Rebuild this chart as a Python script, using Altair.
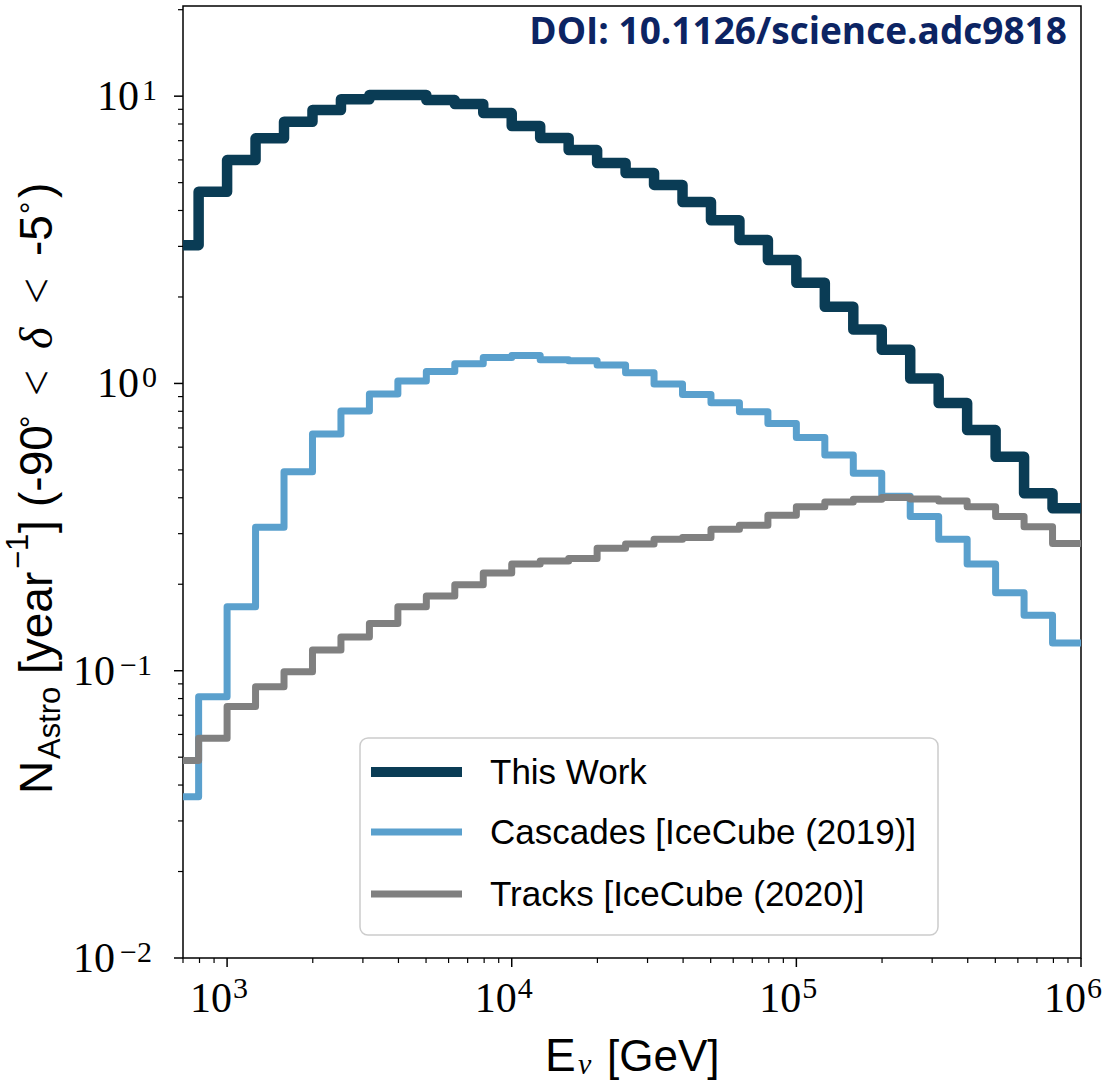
import altair as alt
import pandas as pd

# ---------------- data ----------------
bin_exponents = [2.8, 2.9, 3.0, 3.1, 3.2, 3.3, 3.4, 3.5, 3.6, 3.7, 3.8, 3.9,
                 4.0, 4.1, 4.2, 4.3, 4.4, 4.5, 4.6, 4.7, 4.8, 4.9,
                 5.0, 5.1, 5.2, 5.3, 5.4, 5.5, 5.6, 5.7, 5.8, 5.9, 6.0]

this_work = [3.03, 4.65, 5.99, 7.13, 8.15, 8.95, 9.75, 10.1, 10.1, 9.69, 9.39, 8.73,
             7.87, 7.15, 6.49, 5.85, 5.40, 4.91, 4.28, 3.70, 3.16, 2.69,
             2.24, 1.85, 1.54, 1.31, 1.04, 0.855, 0.688, 0.556, 0.415, 0.368]

cascades = [0.0364, 0.0812, 0.167, 0.316, 0.493, 0.667, 0.802, 0.918, 1.02, 1.10, 1.17, 1.23,
            1.25, 1.21, 1.20, 1.16, 1.09, 0.995, 0.916, 0.857, 0.797, 0.726,
            0.649, 0.563, 0.487, 0.405, 0.344, 0.287, 0.235, 0.187, 0.156, 0.125]

tracks = [0.0487, 0.0582, 0.0750, 0.0880, 0.0992, 0.118, 0.131, 0.146, 0.167, 0.182, 0.199, 0.219,
          0.235, 0.241, 0.246, 0.267, 0.276, 0.287, 0.291, 0.311, 0.321, 0.348,
          0.372, 0.387, 0.395, 0.401, 0.396, 0.390, 0.372, 0.344, 0.317, 0.277]

series_names = ["This Work", "Cascades [IceCube (2019)]", "Tracks [IceCube (2020)]"]
series_values = [this_work, cascades, tracks]

x_major = [1e3, 1e4, 1e5, 1e6]
x_major_exp = ["3", "4", "5", "6"]
y_major_pos = [1.0, 10.0]
y_major_pos_exp = ["0", "1"]
y_major_neg = [0.01, 0.1]
y_major_neg_exp = ["\u22122", "\u22121"]

x_minor = [700, 800, 900] + [m * 10 ** k for k in (3, 4, 5) for m in range(2, 10)]
y_minor = [m * 10.0 ** k for k in (-2, -1, 0) for m in range(2, 10)] + [20]

# ---------------- styles ----------------
W, H = 898, 952
OX, OY = 183, 6          # plot origin on the page
colors = ["#0a3c55", "#5aa0cd", "#808080"]
widths = [10.5, 7, 7]
SANS = "Liberation Sans"
SERIF = "Liberation Serif"

x_scale = alt.Scale(type="log", domain=[700, 1e6], nice=False)
y_scale = alt.Scale(type="log", domain=[0.01, 20.6], nice=False)
one = pd.DataFrame({"k": [0]})

layers = []

# step lines
for vals, c, w in zip(series_values, colors, widths):
    df = pd.DataFrame({"E": [10 ** e for e in bin_exponents], "N": vals + [vals[-1]]})
    layers.append(
        alt.Chart(df).mark_line(interpolate="step-after", color=c, strokeWidth=w,
                                clip=True, strokeJoin="round")
        .encode(x=alt.X("E:Q", scale=x_scale, axis=None),
                y=alt.Y("N:Q", scale=y_scale, axis=None))
    )

# x ticks
xmaj = pd.DataFrame({"E": x_major, "exp": x_major_exp})
xmin = pd.DataFrame({"E": x_minor})
layers.append(alt.Chart(xmaj).mark_rule(color="black", strokeWidth=1.5)
              .encode(x=alt.X("E:Q", scale=x_scale, axis=None), y=alt.value(H), y2=alt.value(H + 9)))
layers.append(alt.Chart(xmin).mark_rule(color="black", strokeWidth=1.2)
              .encode(x=alt.X("E:Q", scale=x_scale, axis=None), y=alt.value(H), y2=alt.value(H + 5)))
layers.append(alt.Chart(xmaj).mark_text(text="10", font=SERIF, fontSize=42, align="right",
                                        baseline="alphabetic", dx=5, color="black")
              .encode(x=alt.X("E:Q", scale=x_scale, axis=None), y=alt.value(1012 - OY)))
layers.append(alt.Chart(xmaj).mark_text(font=SERIF, fontSize=30, align="left",
                                        baseline="alphabetic", dx=6, color="black")
              .encode(x=alt.X("E:Q", scale=x_scale, axis=None), y=alt.value(998 - OY), text="exp:N"))

# y ticks
ymaj_all = pd.DataFrame({"N": y_major_neg + y_major_pos})
ymin = pd.DataFrame({"N": y_minor})
layers.append(alt.Chart(ymaj_all).mark_rule(color="black", strokeWidth=1.5)
              .encode(y=alt.Y("N:Q", scale=y_scale, axis=None), x=alt.value(-9), x2=alt.value(0)))
layers.append(alt.Chart(ymin).mark_rule(color="black", strokeWidth=1.2)
              .encode(y=alt.Y("N:Q", scale=y_scale, axis=None), x=alt.value(-5), x2=alt.value(0)))
for vals, exps, xten, xsup in [(y_major_pos, y_major_pos_exp, -44, -41),
                               (y_major_neg, y_major_neg_exp, -68, -63)]:
    d = pd.DataFrame({"N": vals, "exp": exps})
    layers.append(alt.Chart(d).mark_text(text="10", font=SERIF, fontSize=42, align="right",
                                         baseline="alphabetic", dy=14, color="black")
                  .encode(y=alt.Y("N:Q", scale=y_scale, axis=None), x=alt.value(xten)))
    layers.append(alt.Chart(d).mark_text(font=SERIF, fontSize=30, align="left",
                                         baseline="alphabetic", dy=4, color="black")
                  .encode(y=alt.Y("N:Q", scale=y_scale, axis=None), x=alt.value(xsup), text="exp:N"))


def txt(s, x, y, size, font=SANS, angle=0, style="normal", weight="normal", color="black", align="left"):
    return (alt.Chart(one).mark_text(text=s, font=font, fontSize=size, angle=angle, fontStyle=style,
                                     fontWeight=weight, color=color, align=align, baseline="alphabetic")
            .encode(x=alt.value(x - OX), y=alt.value(y - OY)))


# y title pieces (rotated, reading upward); (text, start_y, baseline_x, size, font, style)
ytitle = [
    ("N", 794, 52, 46, SANS, "normal"),
    ("Astro", 759, 60, 31, SANS, "normal"),
    ("[year", 674, 52, 46, SANS, "normal"),
    ("\u22121", 569, 28, 31, SANS, "normal"),
    ("]", 533, 52, 46, SANS, "normal"),
    ("(-90", 507, 52, 46, SANS, "normal"),
    ("\u00b0", 428, 42, 31, SANS, "normal"),
    ("<", 396, 52, 46, SERIF, "normal"),
    ("\u03b4", 349, 52, 46, SERIF, "italic"),
    ("<", 304, 52, 46, SERIF, "normal"),
    ("-5", 256, 52, 46, SANS, "normal"),
    ("\u00b0", 214, 42, 31, SANS, "normal"),
    (")", 198, 52, 46, SANS, "normal"),
]
for s, y0, xb, fs, f, st in ytitle:
    layers.append(txt(s, xb, y0, fs, font=f, angle=270, style=st))

# x title
layers.append(txt("E", 545, 1071, 46))
layers.append(txt("\u03bd", 578, 1074, 30, font=SERIF, style="italic"))
layers.append(txt("[GeV]", 607, 1071, 44))

# legend
layers.append(alt.Chart(one).mark_rect(fill="white", fillOpacity=0.85, stroke="#cccccc",
                                       strokeWidth=1.5, cornerRadius=8)
              .encode(x=alt.value(360 - OX), x2=alt.value(938 - OX),
                      y=alt.value(738 - OY), y2=alt.value(935 - OY)))
legend_rows = [772, 832, 894]
legend_lw = [10, 7, 7]
for name, c, lw, ry in zip(series_names, colors, legend_lw, legend_rows):
    layers.append(alt.Chart(one).mark_rule(color=c, strokeWidth=lw)
                  .encode(x=alt.value(371 - OX), x2=alt.value(462 - OX),
                          y=alt.value(ry - OY)))
    layers.append(txt(name, 490, ry + 12, 35))

# DOI
layers.append(txt("DOI: 10.1126/science.adc9818", 1067, 44, 37, font="Open Sans",
                  weight="bold", color="#0c2463", align="right"))

chart = (alt.layer(*layers)
         .properties(width=W, height=H,
                     autosize=alt.AutoSizeParams(type="none"),
                     padding={"left": OX, "top": OY, "right": 1108 - OX - W, "bottom": 1081 - OY - H},
                     background="white")
         .configure_view(stroke="black", strokeWidth=1.5))

chart.save("out.html", embed_options={"renderer": "svg", "actions": False})
